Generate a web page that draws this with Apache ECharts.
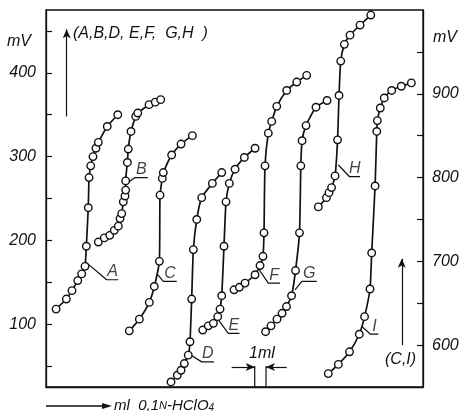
<!DOCTYPE html>
<html><head><meta charset="utf-8">
<script src="https://cdn.jsdelivr.net/npm/echarts@6/dist/echarts.min.js"></script>
<style>html,body{margin:0;padding:0;background:#fff}#c{width:463px;height:411px}</style>
</head><body><div id="c"></div>
<script>
// ---- data: titrant volume (ml) and potential (mV) ----
const A_ml = [0.89,1.80,2.30,2.81,3.16,3.45,3.57,3.74,3.81,3.96,4.16,4.42,4.63,5.42,6.35];
const A_mV = [118,130,140,152,160,169,193,239,275,289,300,310,317,336,350];
const B_ml = [4.63,5.16,5.64,6.04,6.40,6.55,6.70,6.84,6.99,7.05,7.05,7.20,7.28,7.52,7.94,8.12,9.12,9.67,10.15];
const B_mV = [198,203,206,212,217,226,232,246,253,260,271,293,309,330,348,352,362,365,368];
const C_ml = [7.37,8.26,9.14,9.58,10.03,10.09,10.29,10.38,11.12,11.95,12.95];
const C_mV = [617,631,651,670,700,779,799,806,827,840,850];
const D_ml = [11.06,11.62,11.95,12.24,12.59,12.74,12.89,13.04,13.34,13.78,14.72,15.55];
const D_mV = [31,39,45,53,63,79,130,189,225,251,268,281];
const E_ml = [13.87,14.36,14.81,15.20,15.40,15.55,15.75,15.93,16.22,16.73,17.55,18.50];
const E_mV = [93,98,101,109,118,134,193,246,268,285,299,310];
const F_ml = [16.64,17.11,17.61,18.50,18.94,19.20,19.29,19.38,19.67,19.97,20.42,21.30,22.19,23.07];
const F_mV = [141,144,149,159,170,181,209,289,328,342,360,379,389,397];
const G_ml = [19.43,19.91,20.44,20.89,21.28,21.73,22.08,22.43,22.55,22.66,23.01,23.89,24.87];
const G_mV = [91,98,106,113,121,134,164,209,289,319,337,359,367];
const H_ml = [24.10,24.82,25.04,25.27,25.58,25.80,25.93,26.08,26.40,26.90,27.79,28.74];
const H_mV = [240,251,257,263,277,320,373,414,434,445,457,469];
const I_ml = [24.98,25.87,26.86,27.72,28.19,28.67,28.82,29.12,29.27,29.32,29.58,29.93,30.59,31.44,32.33];
const I_mV = [566,577,592,613,634,667,710,790,855,868,883,895,904,909,913];

// curve tags: [point on curve, start of underline, end of underline]
const A_tag = [[3.45,175],[5.37,153],[6.40,153]];
const B_tag = [[7.14,268],[7.88,275],[9.00,275]];
const C_tag = [[9.89,684],[10.38,676],[11.57,676]];
const D_tag = [[12.59,65],[13.78,55],[14.87,55]];
const E_tag = [[15.25,105],[16.13,89],[17.12,89]];
const F_tag = [[18.76,167],[19.67,149],[20.71,149]];
const G_tag = [[22.04,141],[22.63,151],[23.96,151]];
const H_tag = [[25.87,290],[26.86,276],[27.79,276]];
const I_tag = [[27.97,622],[28.72,613],[29.41,613]];

const leftTicks = [50,100,150,200,250,300,350,400,450];
const leftLabels = [100,200,300,400];
const rightTicks = [600,650,700,750,800,850,900,950];
const rightLabels = [600,700,800,900];
const scaleBar_ml = [18.47,19.47]; // "1ml" bar

const curves = [
  {n:'A', x:A_ml, y:A_mV, t:A_tag, ax:0},
  {n:'B', x:B_ml, y:B_mV, t:B_tag, ax:0},
  {n:'C', x:C_ml, y:C_mV, t:C_tag, ax:1},
  {n:'D', x:D_ml, y:D_mV, t:D_tag, ax:0},
  {n:'E', x:E_ml, y:E_mV, t:E_tag, ax:0},
  {n:'F', x:F_ml, y:F_mV, t:F_tag, ax:0},
  {n:'G', x:G_ml, y:G_mV, t:G_tag, ax:0},
  {n:'H', x:H_ml, y:H_mV, t:H_tag, ax:0},
  {n:'I', x:I_ml, y:I_mV, t:I_tag, ax:1}
];

const FONT = 'Liberation Sans';
const INK = '#111';
const series = [];
curves.forEach(c => {
  series.push({
    type:'line', name:c.n, yAxisIndex:c.ax,
    data:c.x.map((v,i)=>[v,c.y[i]]),
    smooth:0.2, symbol:'circle', symbolSize:7.5, z:3,
    lineStyle:{color:INK, width:1.7},
    itemStyle:{color:'#fff', borderColor:INK, borderWidth:1.4}
  });
  series.push({
    type:'line', yAxisIndex:c.ax, data:c.t, symbol:'none', z:2,
    lineStyle:{color:INK, width:1.2}
  });
  series.push({
    type:'scatter', yAxisIndex:c.ax, symbolSize:0, z:4,
    data:[[ (c.t[1][0]+c.t[2][0])/2, c.t[1][1] ]],
    label:{show:true, position:'top', distance:0, formatter:c.n,
      fontFamily:FONT, fontStyle:'italic', fontSize:16, color:INK}
  });
});
// 1 ml scale bar
scaleBar_ml.forEach(v => {
  series.push({type:'line', data:[[v,25],[v,50]], symbol:'none', lineStyle:{color:INK,width:1.2}});
});
series.push({type:'line', data:[], markLine:{silent:true, symbol:['none','arrow'], symbolSize:[6,9],
  label:{show:false}, lineStyle:{color:INK,width:1.2,type:'solid'},
  data:[
    [{coord:[16.43,49]},{coord:[scaleBar_ml[0],49]}],
    [{coord:[21.30,49]},{coord:[scaleBar_ml[1],49]}],
    [{coord:[1.83,348]},{coord:[1.83,452]}]
  ]}});
series.push({type:'line', yAxisIndex:1, data:[], markLine:{silent:true, symbol:['none','arrow'], symbolSize:[6,9],
  label:{show:false}, lineStyle:{color:INK,width:1.2,type:'solid'},
  data:[[{coord:[31.48,600]},{coord:[31.48,703]}]]}});

const txt = {fontFamily:FONT, fontStyle:'italic', fontSize:16, fill:INK};
const chart = echarts.init(document.getElementById('c'), null, {renderer:'canvas'});
chart.setOption({
  animation:false,
  backgroundColor:'#fff',
  grid:{left:46, right:40, top:10, bottom:24, show:true, borderColor:INK, borderWidth:1.3},
  xAxis:{type:'value', min:0, max:33.36, axisLine:{show:true, lineStyle:{color:INK,width:1.3}},
    axisTick:{show:false}, axisLabel:{show:false}, splitLine:{show:false}},
  yAxis:[
    {type:'value', min:25, max:475, position:'left',
      axisLine:{show:true, lineStyle:{color:INK,width:1.3}},
      axisTick:{show:true, inside:true, length:6, customValues:leftTicks, lineStyle:{color:INK,width:1.2}},
      axisLabel:{show:true, customValues:leftLabels, margin:10, fontFamily:FONT, fontStyle:'italic', fontSize:16, color:INK},
      splitLine:{show:false}},
    {type:'value', min:550, max:1000, position:'right',
      axisLine:{show:true, lineStyle:{color:INK,width:1.3}},
      axisTick:{show:true, inside:true, length:6, customValues:rightTicks, lineStyle:{color:INK,width:1.2}},
      axisLabel:{show:true, customValues:rightLabels, margin:9, fontFamily:FONT, fontStyle:'italic', fontSize:16, color:INK},
      splitLine:{show:false}}
  ],
  series:series,
  graphic:[
    {type:'text', left:7, top:34, style:Object.assign({text:'mV'}, txt)},
    {type:'text', left:433, top:30, style:Object.assign({text:'mV'}, txt)},
    {type:'text', left:73, top:26, style:Object.assign({text:'(A,B,D, E,F,  G,H  )'}, txt)},
    {type:'text', left:249, top:346, style:Object.assign({text:'1ml'}, txt)},
    {type:'text', left:385, top:352, style:Object.assign({text:'(C,I)'}, txt)},
    {type:'line', shape:{x1:46, y1:406, x2:104, y2:406}, style:{stroke:INK, lineWidth:1.3}},
    {type:'polygon', shape:{points:[[112,406],[102,403],[102,409]]}, style:{fill:INK}},
    {type:'text', left:114, top:398, style:{
      text:'{a|ml  0,1}{s|N}{a|-HClO}{b|4}',
      rich:{
        a:{fontFamily:FONT, fontStyle:'italic', fontSize:15, fill:INK},
        s:{fontFamily:FONT, fontStyle:'italic', fontSize:11, fill:INK},
        b:{fontFamily:FONT, fontStyle:'italic', fontSize:10, fill:INK, padding:[6,0,0,0]}
      }}}
  ]
});
</script></body></html>
